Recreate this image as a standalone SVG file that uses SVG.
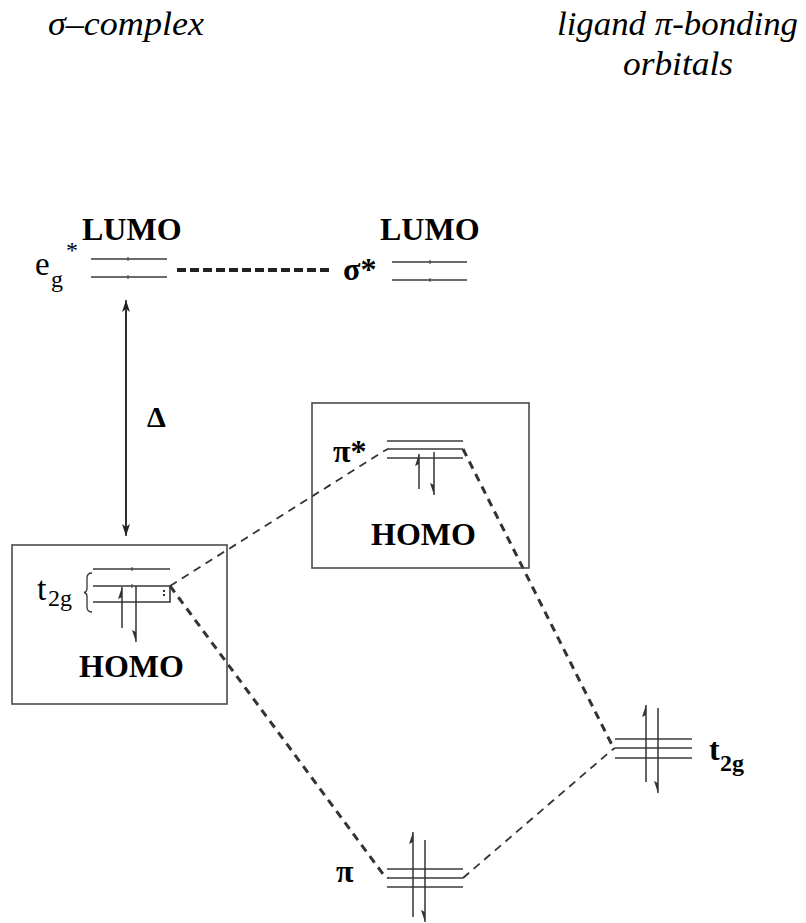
<svg xmlns="http://www.w3.org/2000/svg" width="806" height="923" viewBox="0 0 806 923">
<style>
text{font-family:"Liberation Serif","Times New Roman",serif;fill:#000}
.title{font-style:italic;font-size:34px}
.lbl{font-weight:bold;font-size:32px}
.reg{font-size:33px}
.sub{font-size:24px}
.lvl{stroke:#3a3a3a;stroke-width:1.6;fill:none}
.tick{stroke:#3a3a3a;stroke-width:1;fill:none}
.box{stroke:#4a4a4a;stroke-width:1.6;fill:none}
.e{stroke:#333;stroke-width:1.5;fill:none}
.up{marker-end:url(#hu)}
.dn{marker-end:url(#hd)}
.thin{stroke:#333;stroke-width:1.8;stroke-dasharray:8 6;fill:none}
.thick{stroke:#333;stroke-width:3;stroke-dasharray:8 6;fill:none}
</style>
<defs>
<marker id="hu" viewBox="0 0 12 6" refX="12" refY="4" markerWidth="12" markerHeight="6" markerUnits="userSpaceOnUse" orient="auto">
<path d="M0,0 L12,4 L2,4 Z" fill="#333"/>
</marker>
<marker id="hd" viewBox="0 0 12 6" refX="12" refY="2" markerWidth="12" markerHeight="6" markerUnits="userSpaceOnUse" orient="auto">
<path d="M0,6 L12,2 L2,2 Z" fill="#333"/>
</marker>
<marker id="ah" viewBox="0 0 12 8" refX="12" refY="4" markerWidth="12" markerHeight="8" markerUnits="userSpaceOnUse" orient="auto">
<path d="M0,0 L12,4 L0,8 L3,4 Z" fill="#222"/>
</marker>
</defs>

<g id="titles">
<text class="title" x="48" y="35" textLength="156" lengthAdjust="spacingAndGlyphs">σ–complex</text>
<text class="title" x="557" y="35" textLength="241" lengthAdjust="spacingAndGlyphs">ligand π-bonding</text>
<text class="title" x="623" y="75" textLength="110" lengthAdjust="spacingAndGlyphs">orbitals</text>
</g>

<g id="connectors">
<line x1="177" y1="270" x2="333" y2="270" stroke="#222" stroke-width="4" stroke-dasharray="9 4"/>
<line x1="126" y1="534" x2="126" y2="300" stroke="#222" stroke-width="1.5" marker-end="url(#ah)"/>
<line x1="126" y1="310" x2="126" y2="536" stroke="#222" stroke-width="1.5" marker-end="url(#ah)"/>
<path class="thin" d="M170,586 L384,451 L388,449"/>
<path class="thick" d="M170,586 L383,874 L388,878"/>
<path class="thick" d="M463,449 L612,745 L615,748"/>
<path class="thin" d="M463,878 L612,750 L615,748"/>
</g>

<g id="delta">
<text x="147" y="427" font-weight="bold" font-size="30">Δ</text>
</g>

<g id="eg-star">
<text class="reg" x="35" y="275">e</text>
<text class="sub" x="51" y="287">g</text>
<text class="sub" x="66" y="258">*</text>
<text class="lbl" x="82" y="240">LUMO</text>
<line class="lvl" x1="91" y1="259" x2="167" y2="259"/>
<line class="lvl" x1="91" y1="277" x2="167" y2="277"/>
<line class="tick" x1="128" y1="257" x2="128" y2="261"/>
<line class="tick" x1="128" y1="275" x2="128" y2="279"/>
</g>

<g id="sigma-star">
<text class="lbl" x="343" y="280">σ*</text>
<text class="lbl" x="380" y="240">LUMO</text>
<line class="lvl" x1="392" y1="262" x2="467" y2="262"/>
<line class="lvl" x1="392" y1="280" x2="467" y2="280"/>
<line class="tick" x1="430" y1="260" x2="430" y2="264"/>
<line class="tick" x1="430" y1="278" x2="430" y2="282"/>
</g>

<g id="t2g-complex">
<rect class="box" x="12" y="545" width="215" height="159"/>
<text x="37" y="600" font-size="34">t</text>
<text class="sub" x="48" y="606">2g</text>
<path d="M92,573 Q87,573 87,578 L87,588 Q87,592 84,592.5 Q87,593 87,597 L87,607 Q87,612 92,612" stroke="#333" stroke-width="1.3" fill="none"/>
<line class="lvl" x1="93" y1="569" x2="170" y2="569"/>
<path class="lvl" d="M93,586 L170,586 L170,602 L93,602"/>
<line class="tick" x1="132" y1="567" x2="132" y2="571"/>
<line class="tick" x1="132" y1="584" x2="132" y2="588"/>
<line x1="164" y1="590" x2="164" y2="598" stroke="#333" stroke-width="2" stroke-dasharray="2 2"/>
<line class="e up" x1="122" y1="628" x2="122" y2="587"/>
<line class="e dn" x1="136" y1="586" x2="136" y2="642"/>
<text class="lbl" x="79" y="677">HOMO</text>
</g>

<g id="pi-star">
<rect class="box" x="312" y="403" width="217" height="165"/>
<text class="lbl" x="333" y="462">π*</text>
<line class="lvl" x1="387" y1="441" x2="463" y2="441"/>
<line class="lvl" x1="387" y1="449" x2="463" y2="449"/>
<line class="lvl" x1="387" y1="458" x2="463" y2="458"/>
<line class="e up" x1="419" y1="489" x2="419" y2="454"/>
<line class="e dn" x1="434" y1="452" x2="434" y2="495"/>
<text class="lbl" x="371" y="545">HOMO</text>
</g>

<g id="t2g-ligand">
<line class="lvl" x1="615" y1="739" x2="692" y2="739"/>
<line class="lvl" x1="615" y1="748" x2="692" y2="748"/>
<line class="lvl" x1="615" y1="758" x2="692" y2="758"/>
<line class="e up" x1="646" y1="782" x2="646" y2="705"/>
<line class="e dn" x1="658" y1="708" x2="658" y2="793"/>
<text class="lbl" x="709" y="760">t</text>
<text class="sub" x="720" y="771" font-weight="bold">2g</text>
</g>

<g id="pi">
<text class="lbl" x="336" y="882">π</text>
<line class="lvl" x1="387" y1="869" x2="463" y2="869"/>
<line class="lvl" x1="387" y1="878" x2="463" y2="878"/>
<line class="lvl" x1="387" y1="887" x2="463" y2="887"/>
<line class="e up" x1="413" y1="917" x2="413" y2="832"/>
<line class="e dn" x1="425" y1="840" x2="425" y2="922"/>
</g>
</svg>
